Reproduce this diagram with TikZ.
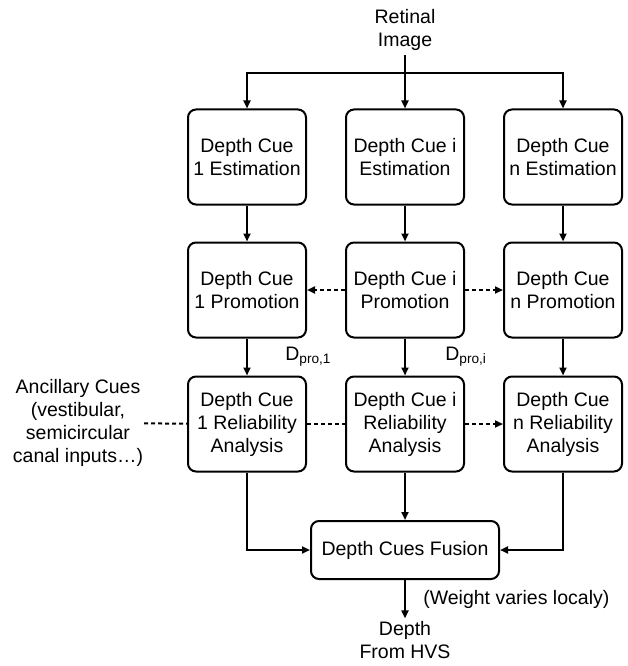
\documentclass[tikz,border=0pt]{standalone}
\usepackage{fontspec}
\setmainfont{Liberation Sans}
\usetikzlibrary{arrows.meta}

\begin{document}
\begin{tikzpicture}[x=1pt, y=-1pt, line width=2pt,
  every node/.style = {font=\fontsize{19.5}{23}\selectfont, align=center},
  cue/.style = {draw, rounded corners=8pt, inner sep=1pt,
    minimum width=118pt, minimum height=95pt},
  tip/.style = {-{Triangle[length=8pt,width=7pt]}},
  dashlink/.style = {dash pattern=on 4pt off 3pt}]
  \useasboundingbox (0,0) rectangle (627,666);
  \node (retinal) at (405,30) {Retinal\\Image};
  \coordinate (split) at (405,73);
  % estimation row
  \node[cue] (est1) at (247,157) {Depth Cue\\1 Estimation};
  \node[cue] (est2) at (405,157) {Depth Cue i\\Estimation};
  \node[cue] (est3) at (563,157) {Depth Cue\\n Estimation};
  % promotion row
  \node[cue] (pro1) at (247,290) {Depth Cue\\1 Promotion};
  \node[cue] (pro2) at (405,290) {Depth Cue i\\Promotion};
  \node[cue] (pro3) at (563,290) {Depth Cue\\n Promotion};
  % reliability row
  \node[cue] (rel1) at (247,424) {Depth Cue\\1 Reliability\\Analysis};
  \node[cue] (rel2) at (405,424) {Depth Cue i\\Reliability\\Analysis};
  \node[cue] (rel3) at (563,424) {Depth Cue\\n Reliability\\Analysis};
  \node[inner sep=0pt] (ancillary) at (78,423)
    {Ancillary Cues\\(vestibular,\\semicircular\\canal inputs…)};
  \node[draw, rounded corners=8pt, minimum width=188pt, minimum height=58pt]
    (fusion) at (405,550) {Depth Cues Fusion};
  \node[inner sep=2pt] (depth) at (405,640) {Depth\\From HVS};

  \draw (retinal) -- (split);
  \draw[tip] (split) -- (est2);
  \draw[tip] (split) -| (est1);
  \draw[tip] (split) -| (est3);
  \draw[tip] (est1) -- (pro1);
  \draw[tip] (est2) -- (pro2);
  \draw[tip] (est3) -- (pro3);
  \draw[tip, dashlink] (pro2) -- (pro1);
  \draw[tip, dashlink] (pro2) -- (pro3);
  \draw[tip] (pro1) -- (rel1)
    node[midway, right=34pt] {D\textsubscript{pro,1}};
  \draw[tip] (pro2) -- (rel2)
    node[midway, right=36pt] {D\textsubscript{pro,i}};
  \draw[tip] (pro3) -- (rel3);
  \draw[dashlink] (ancillary) -- (rel1);
  \draw[dashlink] (rel1) -- (rel2);
  \draw[tip, dashlink] (rel2) -- (rel3);
  \draw[tip] (rel1) |- (fusion);
  \draw[tip] (rel2) -- (fusion);
  \draw[tip] (rel3) |- (fusion);
  \draw[tip] (fusion) -- (depth)
    node[midway, right=14pt] {(Weight varies localy)};
\end{tikzpicture}
\end{document}
